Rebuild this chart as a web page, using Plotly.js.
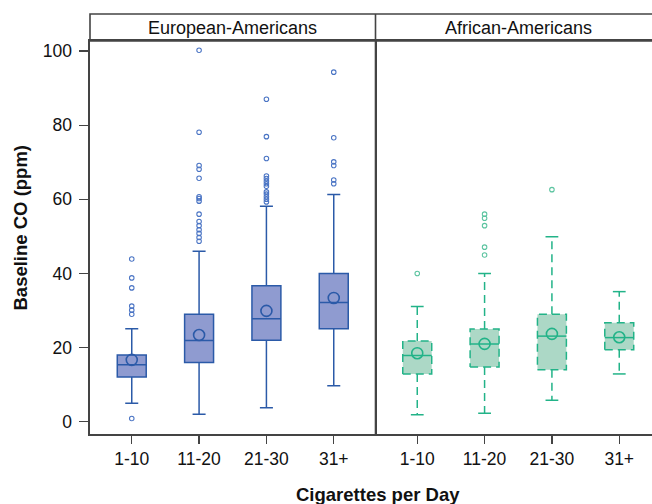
<!DOCTYPE html>
<html>
<head>
<meta charset="utf-8">
<script src="https://cdn.plot.ly/plotly-3.0.1.min.js"></script>
<style>html,body{margin:0;padding:0;overflow:hidden;background:#fff;}</style>
</head>
<body>
<div id="chart"></div>
<script>
// ---- data ----
const categories = ['1-10', '11-20', '21-30', '31+'];
const panels = ['European-Americans', 'African-Americans'];

// European-Americans
const eaQ1 = [12.1, 16.0, 22.0, 25.1];
const eaMedian = [15.4, 21.9, 27.8, 32.2];
const eaQ3 = [18.0, 29.0, 36.7, 40.0];
const eaLower = [5.0, 2.0, 3.8, 9.7];
const eaUpper = [25.1, 46.0, 58.1, 61.3];
const eaMean = [16.7, 23.4, 29.9, 33.4];
const eaOutliers = [
  [0.9, 29.0, 30.1, 31.2, 36.1, 38.8, 43.9],
  [48.7, 49.7, 50.8, 51.8, 52.9, 54.0, 56.0, 59.5, 60.2, 60.7, 65.7, 68.1, 69.1, 78.1, 100.2],
  [59.3, 60.0, 60.7, 61.4, 62.0, 63.5, 64.2, 64.9, 65.6, 66.3, 71.0, 76.9, 87.0],
  [64.2, 65.2, 69.1, 70.1, 76.6, 94.3]
];

// African-Americans
const aaQ1 = [12.9, 14.8, 14.0, 19.4];
const aaMedian = [17.9, 21.0, 23.1, 22.7];
const aaQ3 = [21.8, 25.0, 29.0, 26.7];
const aaLower = [1.9, 2.3, 5.8, 12.9];
const aaUpper = [31.1, 40.0, 49.9, 35.1];
const aaMean = [18.5, 21.0, 23.7, 22.8];
const aaOutliers = [
  [40.0],
  [45.0, 47.1, 52.9, 54.9, 56.0],
  [62.6],
  []
];

const yTicks = [0, 20, 40, 60, 80, 100];

// ---- styles ----
const FONT = '"Liberation Sans", Arial, sans-serif';
const FRAME = '#444444';
const EA_FILL = '#8f9bd0', EA_LINE = '#2b5aa8', EA_OUT = '#4a74c4';
const AA_FILL = '#acd8c6', AA_LINE = '#22b388', AA_OUT = '#5cc4a0';
const BOX_W = 0.43;      // box width in category units
const CAP_W = 0.095;     // half-width of whisker caps
const idx = categories.map((_, i) => i);

function outlierXY(groups) {
  const xs = [], ys = [];
  groups.forEach((g, i) => g.forEach(v => { xs.push(i); ys.push(v); }));
  return {x: xs, y: ys};
}

const traces = [];

// EA boxes
traces.push({
  type: 'box', x: idx, q1: eaQ1, median: eaMedian, q3: eaQ3,
  lowerfence: eaLower, upperfence: eaUpper,
  width: BOX_W, whiskerwidth: 0.45,
  fillcolor: EA_FILL, line: {color: EA_LINE, width: 1.5},
  xaxis: 'x', yaxis: 'y', hoverinfo: 'skip', showlegend: false
});
const eaOut = outlierXY(eaOutliers);
traces.push({
  type: 'scatter', mode: 'markers', x: eaOut.x, y: eaOut.y, xaxis: 'x', yaxis: 'y',
  marker: {symbol: 'circle-open', size: 4.5, color: EA_OUT, line: {width: 1.1}},
  hoverinfo: 'skip', showlegend: false
});
traces.push({
  type: 'scatter', mode: 'markers', x: idx, y: eaMean, xaxis: 'x', yaxis: 'y',
  marker: {symbol: 'circle-open', size: 11, color: EA_LINE, line: {width: 1.6}},
  hoverinfo: 'skip', showlegend: false
});

// AA boxes: fill from box trace, outlines drawn dashed from the same stats
traces.push({
  type: 'box', x: idx, q1: aaQ1, median: aaMedian, q3: aaQ3,
  lowerfence: aaLower, upperfence: aaUpper,
  width: BOX_W, whiskerwidth: 0,
  fillcolor: AA_FILL, line: {color: AA_FILL, width: 0},
  xaxis: 'x2', yaxis: 'y', hoverinfo: 'skip', showlegend: false
});
const dx = [], dy = [], sx = [], sy = [];
const hw = BOX_W / 2;
idx.forEach(i => {
  // box outline + whiskers (dashed)
  dx.push(i - hw, i + hw, i + hw, i - hw, i - hw, null);
  dy.push(aaQ1[i], aaQ1[i], aaQ3[i], aaQ3[i], aaQ1[i], null);
  dx.push(i, i, null, i, i, null);
  dy.push(aaQ3[i], aaUpper[i], null, aaQ1[i], aaLower[i], null);
  // median + caps (solid)
  sx.push(i - hw, i + hw, null, i - CAP_W, i + CAP_W, null, i - CAP_W, i + CAP_W, null);
  sy.push(aaMedian[i], aaMedian[i], null, aaUpper[i], aaUpper[i], null, aaLower[i], aaLower[i], null);
});
traces.push({
  type: 'scatter', mode: 'lines', x: dx, y: dy, xaxis: 'x2', yaxis: 'y',
  line: {color: AA_LINE, width: 1.5, dash: '8px,5px'}, connectgaps: false,
  hoverinfo: 'skip', showlegend: false
});
traces.push({
  type: 'scatter', mode: 'lines', x: sx, y: sy, xaxis: 'x2', yaxis: 'y',
  line: {color: AA_LINE, width: 1.5}, connectgaps: false,
  hoverinfo: 'skip', showlegend: false
});
const aaOut = outlierXY(aaOutliers);
traces.push({
  type: 'scatter', mode: 'markers', x: aaOut.x, y: aaOut.y, xaxis: 'x2', yaxis: 'y',
  marker: {symbol: 'circle-open', size: 4.5, color: AA_OUT, line: {width: 1.1}},
  hoverinfo: 'skip', showlegend: false
});
traces.push({
  type: 'scatter', mode: 'markers', x: idx, y: aaMean, xaxis: 'x2', yaxis: 'y',
  marker: {symbol: 'circle-open', size: 11, color: AA_LINE, line: {width: 1.6}},
  hoverinfo: 'skip', showlegend: false
});

const xCommon = {
  range: [-0.62, 3.62], tickmode: 'array', tickvals: idx, ticktext: categories,
  ticks: 'outside', ticklen: 8, tickwidth: 1.3, tickcolor: FRAME,
  showline: true, linecolor: FRAME, linewidth: 1.6, mirror: true,
  showgrid: false, zeroline: false, fixedrange: true,
  tickfont: {family: FONT, size: 17.5, color: '#111'}, anchor: 'y'
};

const HEAD_TOP = 1 + 27 / 393;

const layout = {
  width: 661, height: 504,
  margin: {l: 90, r: 0, t: 41, b: 70, pad: 0},
  paper_bgcolor: '#fff', plot_bgcolor: '#fff',
  font: {family: FONT, color: '#111'},
  showlegend: false,
  xaxis: Object.assign({}, xCommon, {domain: [0, 0.5]}),
  xaxis2: Object.assign({}, xCommon, {domain: [0.5, 1]}),
  yaxis: {
    range: [-3.3, 102.7], tickmode: 'array', tickvals: yTicks,
    ticks: 'outside', ticklen: 9, tickwidth: 1.3, tickcolor: FRAME,
    showline: true, linecolor: FRAME, linewidth: 1.6, mirror: true,
    showgrid: false, zeroline: false, fixedrange: true, ticklabelstandoff: 4,
    tickfont: {family: FONT, size: 17.5, color: '#111'}
  },
  shapes: [
    {type: 'rect', xref: 'paper', yref: 'paper', x0: 0, x1: 1.01, y0: 1, y1: HEAD_TOP,
     line: {color: FRAME, width: 1.6}, fillcolor: 'rgba(0,0,0,0)'},
    {type: 'line', xref: 'paper', yref: 'paper', x0: 0.5, x1: 0.5, y0: 0, y1: HEAD_TOP,
     line: {color: FRAME, width: 1.6}}
  ],
  annotations: [
    {text: panels[0], xref: 'paper', yref: 'paper', x: 0.25, y: (1 + HEAD_TOP) / 2,
     xanchor: 'center', yanchor: 'middle', showarrow: false, font: {family: FONT, size: 18, color: '#111'}},
    {text: panels[1], xref: 'paper', yref: 'paper', x: 0.75, y: (1 + HEAD_TOP) / 2,
     xanchor: 'center', yanchor: 'middle', showarrow: false, font: {family: FONT, size: 18, color: '#111'}},
    {text: '<b>Cigarettes per Day</b>', xref: 'paper', yref: 'paper', x: (378 - 90) / 571, y: (434 - 494.5) / 393,
     xanchor: 'center', yanchor: 'middle', showarrow: false, font: {family: FONT, size: 18.5, color: '#111'}},
    {text: '<b>Baseline CO (ppm)</b>', xref: 'paper', yref: 'paper', x: (20 - 90) / 571, y: (434 - 227.5) / 393,
     xanchor: 'center', yanchor: 'middle', textangle: -90, showarrow: false, font: {family: FONT, size: 18.5, color: '#111'}}
  ]
};

Plotly.newPlot('chart', traces, layout, {displayModeBar: false, staticPlot: true});
</script>
</body>
</html>
